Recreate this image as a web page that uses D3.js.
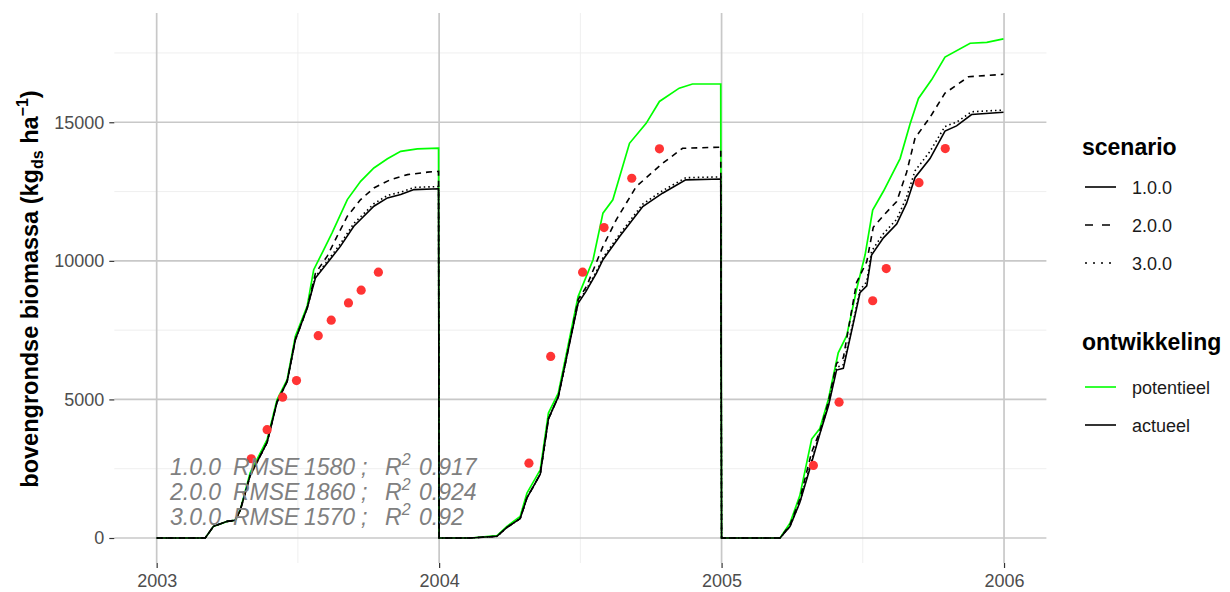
<!DOCTYPE html>
<html><head><meta charset="utf-8">
<script src="https://cdn.jsdelivr.net/npm/d3@7"></script>
<style>body{margin:0;background:#fff} svg{display:block;font-family:"Liberation Sans",Arial,sans-serif}</style>
</head><body><svg id="c" width="1230" height="592"></svg>
<script>
// ---------- data ----------
const xTicks = [2003, 2004, 2005, 2006];
const xMinor = [2003.5, 2004.5, 2005.5];
const yTicks = [0, 5000, 10000, 15000];
const yMinor = [2500, 7500, 12500, 17500];

const potentieel = [
[2003.000,0],[2003.172,0],[2003.201,420],[2003.250,600],[2003.278,640],[2003.296,1020],[2003.331,2350],[2003.391,3550],[2003.426,4990],[2003.462,5710],[2003.491,7280],[2003.533,8370],[2003.556,9680],[2003.586,10290],[2003.621,11010],[2003.675,12210],[2003.722,12870],[2003.769,13350],[2003.817,13680],[2003.864,13950],[2003.923,14040],[2003.998,14070],
[2004.000,0],[2004.111,0],[2004.205,84],[2004.240,420],[2004.287,780],[2004.311,1620],[2004.358,2460],[2004.387,4510],[2004.422,5230],[2004.451,6670],[2004.492,8710],[2004.545,10040],[2004.580,11720],[2004.615,12200],[2004.674,14240],[2004.733,14960],[2004.780,15750],[2004.850,16230],[2004.897,16380],[2004.997,16380],
[2005.000,0],[2005.207,0],[2005.242,530],[2005.277,1530],[2005.319,3570],[2005.348,3950],[2005.378,5000],[2005.413,6680],[2005.443,7300],[2005.478,8970],[2005.508,10210],[2005.535,11830],[2005.573,12510],[2005.632,13690],[2005.667,14930],[2005.697,15860],[2005.744,16540],[2005.791,17350],[2005.880,17850],[2005.939,17880],[2005.998,18010]
];

const actueel1 = [
[2003.000,0],[2003.172,0],[2003.201,420],[2003.250,600],[2003.278,640],[2003.296,1000],[2003.331,2250],[2003.391,3450],[2003.426,4900],[2003.462,5650],[2003.491,7150],[2003.533,8300],[2003.562,9380],[2003.604,9920],[2003.651,10530],[2003.698,11250],[2003.769,11970],[2003.817,12270],[2003.864,12390],[2003.911,12570],[2003.998,12600],
[2004.000,0],[2004.111,0],[2004.205,60],[2004.240,380],[2004.287,700],[2004.311,1450],[2004.358,2300],[2004.387,4300],[2004.422,5100],[2004.451,6500],[2004.492,8470],[2004.520,8900],[2004.557,9560],[2004.580,10040],[2004.639,10880],[2004.721,11960],[2004.791,12440],[2004.873,12920],[2004.997,12950],
[2005.000,0],[2005.207,0],[2005.242,410],[2005.277,1280],[2005.313,2520],[2005.348,3760],[2005.378,4750],[2005.407,6060],[2005.431,6120],[2005.466,7730],[2005.490,8850],[2005.514,9100],[2005.531,10210],[2005.573,10830],[2005.620,11330],[2005.655,12080],[2005.685,13010],[2005.738,13690],[2005.791,14680],[2005.832,14870],[2005.885,15280],[2005.998,15360]
];

const actueel2 = [
[2003.000,0],[2003.172,0],[2003.201,420],[2003.250,600],[2003.278,640],[2003.296,1000],[2003.331,2250],[2003.391,3450],[2003.426,4900],[2003.462,5650],[2003.491,7150],[2003.533,8300],[2003.562,9550],[2003.604,10170],[2003.639,10890],[2003.675,11610],[2003.722,12210],[2003.769,12630],[2003.828,12930],[2003.888,13110],[2003.959,13200],[2003.998,13230],
[2004.000,0],[2004.111,0],[2004.205,60],[2004.240,380],[2004.287,700],[2004.311,1450],[2004.358,2300],[2004.387,4300],[2004.422,5100],[2004.451,6500],[2004.492,8600],[2004.522,9080],[2004.580,10520],[2004.627,11480],[2004.698,12680],[2004.791,13520],[2004.862,14060],[2004.997,14100],
[2005.000,0],[2005.207,0],[2005.242,470],[2005.277,1400],[2005.319,3100],[2005.348,3850],[2005.378,4900],[2005.407,6300],[2005.431,6500],[2005.478,9220],[2005.514,9970],[2005.537,11210],[2005.579,11700],[2005.620,12140],[2005.655,13190],[2005.685,14430],[2005.738,15180],[2005.791,16050],[2005.874,16640],[2005.998,16730]
];

const actueel3 = [
[2003.000,0],[2003.172,0],[2003.201,420],[2003.250,600],[2003.278,640],[2003.296,1000],[2003.331,2250],[2003.391,3450],[2003.426,4900],[2003.462,5650],[2003.491,7150],[2003.533,8300],[2003.562,9420],[2003.604,9990],[2003.651,10620],[2003.698,11350],[2003.769,12060],[2003.817,12360],[2003.864,12480],[2003.911,12650],[2003.998,12680],
[2004.000,0],[2004.111,0],[2004.205,60],[2004.240,380],[2004.287,700],[2004.311,1450],[2004.358,2300],[2004.387,4300],[2004.422,5100],[2004.451,6500],[2004.492,8500],[2004.520,8950],[2004.557,9620],[2004.580,10110],[2004.639,10960],[2004.721,12050],[2004.791,12530],[2004.873,13000],[2004.997,13030],
[2005.000,0],[2005.207,0],[2005.242,420],[2005.277,1300],[2005.313,2600],[2005.348,3800],[2005.378,4800],[2005.407,6150],[2005.431,6250],[2005.466,7800],[2005.490,8950],[2005.514,9250],[2005.531,10350],[2005.573,10980],[2005.620,11500],[2005.655,12300],[2005.685,13250],[2005.738,13950],[2005.791,14850],[2005.832,15000],[2005.885,15380],[2005.998,15440]
];

const obsTime = [2003.335,2003.391,2003.446,2003.495,2003.572,2003.618,2003.679,2003.724,2003.785,
                 2004.318,2004.395,2004.508,2004.584,2004.682,2004.780,
                 2005.325,2005.416,2005.535,2005.583,2005.699,2005.792];
const obsVal  = [2860,3910,5080,5680,7300,7860,8480,8940,9590,
                 2700,6550,9590,11200,12980,14040,
                 2620,4900,8560,9720,12820,14050];

const scenarios = ["1.0.0", "2.0.0", "3.0.0"];
const rmse = [1580, 1860, 1570];
const r2 = ["0.917", "0.924", "0.92"];
const devLabels = ["potentieel", "actueel"];

// ---------- layout ----------
const svg = d3.select("#c");
const x = d3.scaleLinear().domain([2002.85, 2006.15]).range([114.3, 1046.4]);
const y = d3.scaleLinear().domain([-902, 18942]).range([563, 13]);

// grid
const g = svg.append("g");
g.selectAll(".ymin").data(yMinor).join("line")
  .attr("x1", x.range()[0]).attr("x2", x.range()[1])
  .attr("y1", d => y(d)).attr("y2", d => y(d))
  .attr("stroke", "#ededed").attr("stroke-width", 0.9);
g.selectAll(".xmin").data(xMinor).join("line")
  .attr("x1", d => x(d)).attr("x2", d => x(d))
  .attr("y1", y.range()[0]).attr("y2", y.range()[1])
  .attr("stroke", "#ededed").attr("stroke-width", 0.9);
g.selectAll(".ymaj").data(yTicks).join("line")
  .attr("x1", x.range()[0]).attr("x2", x.range()[1])
  .attr("y1", d => y(d)).attr("y2", d => y(d))
  .attr("stroke", "#c8c8c8").attr("stroke-width", 1.7);
g.selectAll(".xmaj").data(xTicks).join("line")
  .attr("x1", d => x(d)).attr("x2", d => x(d))
  .attr("y1", y.range()[0]).attr("y2", y.range()[1])
  .attr("stroke", "#c8c8c8").attr("stroke-width", 1.7);

// axes
const ax = svg.append("g").attr("transform", `translate(0,563)`)
  .call(d3.axisBottom(x).tickValues(xTicks).tickFormat(d3.format("d")).tickSize(5).tickPadding(6));
const ay = svg.append("g").attr("transform", `translate(114.3,0)`)
  .call(d3.axisLeft(y).tickValues(yTicks).tickFormat(d3.format("d")).tickSize(5).tickPadding(5));
[ax, ay].forEach(a => {
  a.select(".domain").remove();
  a.selectAll(".tick line").attr("stroke", "#333").attr("stroke-width", 1.2);
  a.selectAll(".tick text").attr("fill", "#4d4d4d").style("font-size", "18px")
    .style("font-family", "'Liberation Sans',Arial,sans-serif");
});

// y title
const yt = svg.append("text")
  .attr("transform", "translate(38,289) rotate(-90)")
  .attr("text-anchor", "middle")
  .style("font-size", "23.5px").style("font-weight", "bold").attr("fill", "#000");
yt.append("tspan").text("bovengrondse biomassa (kg");
yt.append("tspan").attr("dy", 5).style("font-size", "16px").text("ds");
yt.append("tspan").attr("dy", -5).text(" ha");
yt.append("tspan").attr("dy", -10).style("font-size", "16px").text("\u22121");
yt.append("tspan").attr("dy", 10).text(")");

// lines
const line = d3.line().x(d => x(d[0])).y(d => y(d[1]));
const plot = svg.append("g");
plot.append("path").datum(potentieel).attr("d", line)
  .attr("fill", "none").attr("stroke", "#00ff00").attr("stroke-width", 1.7);
plot.append("path").datum(actueel3).attr("d", line)
  .attr("fill", "none").attr("stroke", "#000").attr("stroke-width", 1.6).attr("stroke-dasharray", "1.5,3");
plot.append("path").datum(actueel2).attr("d", line)
  .attr("fill", "none").attr("stroke", "#000").attr("stroke-width", 1.6).attr("stroke-dasharray", "6,5");
plot.append("path").datum(actueel1).attr("d", line)
  .attr("fill", "none").attr("stroke", "#000").attr("stroke-width", 1.6);

// observations
plot.selectAll("circle").data(obsTime.map((t, i) => [t, obsVal[i]])).join("circle")
  .attr("cx", d => x(d[0])).attr("cy", d => y(d[1])).attr("r", 4.6)
  .attr("fill", "#ff3434");

// annotation
const ann = svg.append("g").attr("fill", "#808080")
  .style("font-size", "23px").style("font-style", "italic");
scenarios.forEach((s, i) => {
  const by = 475 + i * 25;
  const t = ann.append("text").attr("x", 170).attr("y", by);
  t.append("tspan").text(s);
  t.append("tspan").attr("x", 233).text("RMSE");
  t.append("tspan").attr("x", 304).text(String(rmse[i]));
  t.append("tspan").attr("x", 361).text(";");
  t.append("tspan").attr("x", 385).text("R");
  t.append("tspan").attr("dy", -10).style("font-size", "16px").text("2");
  t.append("tspan").attr("x", 419).attr("dy", 10).text(r2[i]);
});

// legend
const lg = svg.append("g");
lg.append("text").attr("x", 1082).attr("y", 155).text("scenario")
  .style("font-size", "23px").style("font-weight", "bold");
const dashes = [null, "8,9", "2,6"];
scenarios.forEach((s, i) => {
  const cy = 187 + i * 38;
  lg.append("line").attr("x1", 1085).attr("x2", 1116).attr("y1", cy).attr("y2", cy)
    .attr("stroke", "#000").attr("stroke-width", 1.6)
    .attr("stroke-dasharray", dashes[i]);
  lg.append("text").attr("x", 1132).attr("y", cy + 6.5).text(s)
    .style("font-size", "18px").attr("fill", "#1a1a1a");
});
lg.append("text").attr("x", 1082).attr("y", 350).text("ontwikkeling")
  .style("font-size", "23px").style("font-weight", "bold");
const devCols = ["#00ff00", "#000"];
devLabels.forEach((s, i) => {
  const cy = 387 + i * 38;
  lg.append("line").attr("x1", 1085).attr("x2", 1116).attr("y1", cy).attr("y2", cy)
    .attr("stroke", devCols[i]).attr("stroke-width", 1.6);
  lg.append("text").attr("x", 1132).attr("y", cy + 6.5).text(s)
    .style("font-size", "18px").attr("fill", "#1a1a1a");
});
</script>
</body></html>
